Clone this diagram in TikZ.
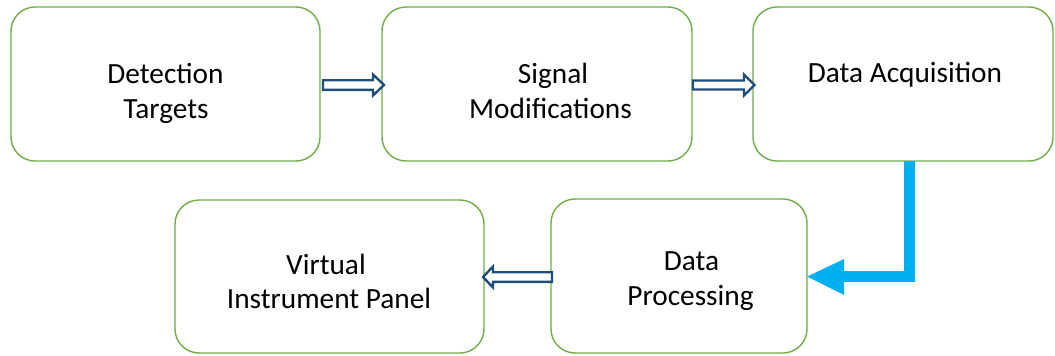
\documentclass[tikz,border=0pt]{standalone}
\usepackage{fontspec}
\setmainfont{Carlito}
\definecolor{boxgreen}{HTML}{70AD47}
\definecolor{arrowblue}{HTML}{1F4E79}
\definecolor{flowcyan}{HTML}{00B0F0}
\begin{document}
\begin{tikzpicture}[x=1pt,y=-1pt,
  stagebox/.style={draw=boxgreen,line width=1.4pt,rounded corners=24pt,fill=white,inner sep=0pt},
  stagetext/.style={anchor=base,font=\fontsize{29.3}{35}\selectfont,inner sep=0pt},
  hollowarrow/.style={draw=arrowblue,line width=2.4pt,fill=white,line join=miter},
  flowline/.style={draw=flowcyan,line width=11pt},
  flowhead/.style={fill=flowcyan}]
\useasboundingbox (0,0) rectangle (1055,356);

% stage boxes
\path[stagebox] (11,7) rectangle (320,161);
\node[inner sep=0pt,minimum width=309pt,minimum height=154pt] (det) at (165.5,84) {};
\path[stagebox] (382,7) rectangle (692,161);
\node[inner sep=0pt,minimum width=310pt,minimum height=154pt] (sig) at (537,84) {};
\path[stagebox] (753,7) rectangle (1053,161);
\node[inner sep=0pt,minimum width=300pt,minimum height=154pt] (acq) at (903,84) {};
\path[stagebox] (175,200) rectangle (484,353);
\node[inner sep=0pt,minimum width=309pt,minimum height=153pt] (vip) at (329.5,276.5) {};
\path[stagebox] (551,199) rectangle (807,353);
\node[inner sep=0pt,minimum width=256pt,minimum height=154pt] (proc) at (679,276) {};

% labels
\node[stagetext] (detA) at (165.5,83) {Detection};
\node[stagetext] (detB) at (166,118) {Targets};
\node[stagetext] (sigA) at (553,83) {Signal};
\node[stagetext] (sigB) at (550.5,118) {Modifications};
\node[stagetext] (acqA) at (905,82) {Data Acquisition};
\node[stagetext] (vipA) at (326,274) {Virtual};
\node[stagetext] (vipB) at (329,308.5) {Instrument Panel};
\node[stagetext] (procA) at (691.5,270) {Data};
\node[stagetext] (procB) at (690.5,305) {Processing};

% hollow block arrows between stages
\draw[hollowarrow] (323,80.2) -- (373,80.2) -- (373,74.5) -- (384,85) -- (373,95.5) -- (373,89.8) -- (323,89.8) -- cycle;
\draw[hollowarrow] (693,80.5) -- (744,80.5) -- (744,74.5) -- (754.5,85) -- (744,95.5) -- (744,89.5) -- (693,89.5) -- cycle;
\draw[hollowarrow] (552,272.2) -- (493,272.2) -- (493,266.5) -- (483,277) -- (493,287.5) -- (493,281.8) -- (552,281.8) -- cycle;

% elbow connector from acquisition down to processing
\coordinate (bend) at (909,276.5);
\coordinate (headbase) at (844,276.5);
\draw[flowline] (acq.south -| bend) -- (bend) -- (headbase);
\fill[flowhead] (844,259) -- (proc.east |- headbase) -- (844,295) -- cycle;
\end{tikzpicture}
\end{document}
